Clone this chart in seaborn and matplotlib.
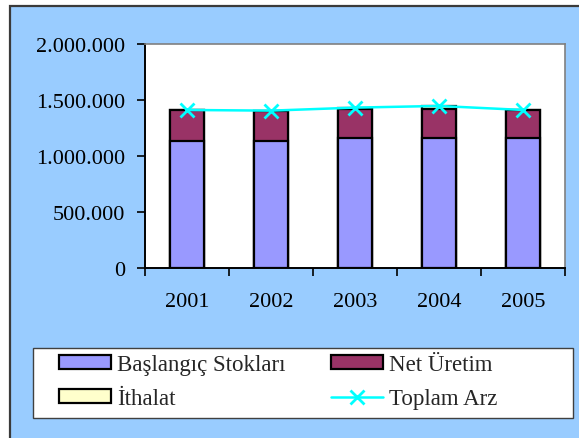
import matplotlib
matplotlib.use("Agg")
import matplotlib.pyplot as plt
import seaborn as sns
import numpy as np
import pandas as pd
from matplotlib.patches import Rectangle, Patch
from matplotlib.lines import Line2D
from matplotlib.ticker import FuncFormatter, FixedLocator

years = ["2001", "2002", "2003", "2004", "2005"]
baslangic = [1137000, 1137000, 1158000, 1158000, 1158000]
net_uretim = [274000, 268000, 264000, 264000, 253000]
ithalat = [0, 0, 10000, 25000, 0]
toplam_arz = [1411000, 1405000, 1432000, 1447000, 1411000]
series_names = ["Başlangıç Stokları", "Net Üretim", "İthalat", "Toplam Arz"]
y_ticks = [0, 500000, 1000000, 1500000, 2000000]

sns.set_theme(style="white")
plt.rcParams["font.family"] = ["Liberation Serif", "DejaVu Serif"]
FS_TICK = 16
FS_LEG = 16.5

c_bas = "#9999FF"
c_net = "#993366"
c_ith = "#FFFFCC"
c_line = "#00FFFF"

W, H = 579, 439
fig = plt.figure(figsize=(5.79, 4.39), dpi=100)
fig.patch.set_facecolor("white")
fig.add_artist(Rectangle((9.5 / W, -0.05), 1.0, 1 - 6.5 / H + 0.05,
                         transform=fig.transFigure, facecolor="#99CCFF",
                         edgecolor="#3a3a3a", linewidth=1.6, zorder=-10))

ax = fig.add_axes([145 / W, 1 - 269 / H, 420 / W, 224 / H])
ax.set_facecolor("white")

b = np.array(baslangic)
n = np.array(net_uretim)
i = np.array(ithalat)
df = pd.DataFrame({"Yıl": years, "l1": b, "l2": b + n, "l3": b + n + i,
                   "Toplam": toplam_arz})

for col, color in [("l3", c_ith), ("l2", c_net), ("l1", c_bas)]:
    sns.barplot(data=df, x="Yıl", y=col, color=color, edgecolor="black",
                linewidth=1.6, width=0.4, saturation=1, ax=ax, zorder=2)

sns.pointplot(data=df, x="Yıl", y="Toplam", color=c_line, markers="x",
              markersize=10, linewidth=1.8, ax=ax, zorder=5)
for line in ax.lines:
    line.set_markeredgewidth(2)

ax.set_xlim(-0.5, 4.5)
ax.set_ylim(0, 2000000)
ax.yaxis.set_major_locator(FixedLocator(y_ticks))
ax.yaxis.set_major_formatter(FuncFormatter(lambda v, p: f"{int(v):,}".replace(",", ".")))
ax.set_xlabel("")
ax.set_ylabel("")

ax.xaxis.set_minor_locator(FixedLocator(np.arange(-0.5, 5, 1.0)))
ax.tick_params(axis="x", which="major", length=0, pad=17, labelsize=FS_TICK, colors="black")
ax.tick_params(axis="x", which="minor", length=6, width=1.2, direction="out", color="black", bottom=True)
ax.tick_params(axis="y", which="major", length=6, width=1.2, direction="out", pad=8,
               labelsize=FS_TICK, colors="black", left=True)
for sp in ["left", "bottom"]:
    ax.spines[sp].set_color("black")
    ax.spines[sp].set_linewidth(1.4)
for sp in ["top", "right"]:
    ax.spines[sp].set_color("#808080")
    ax.spines[sp].set_linewidth(1.2)
    ax.spines[sp].set_visible(True)
ax.grid(False)

# legend frame
fig.add_artist(Rectangle((33 / W, 1 - 419 / H), 540 / W, 70 / H,
                         transform=fig.transFigure, facecolor="white",
                         edgecolor="#404040", linewidth=1.0, zorder=1))

handles = [
    Patch(facecolor=c_bas, edgecolor="black", linewidth=1.6),
    Patch(facecolor=c_ith, edgecolor="black", linewidth=1.6),
    Patch(facecolor=c_net, edgecolor="black", linewidth=1.6),
    Line2D([0], [0], color=c_line, marker="x", markersize=10, markeredgewidth=2, linewidth=1.8),
]
labels = [series_names[0], series_names[2], series_names[1], series_names[3]]
leg = fig.legend(handles, labels, loc="upper left", ncol=2,
                 bbox_to_anchor=(59 / W, 1 - 355 / H),
                 fontsize=FS_LEG, frameon=False,
                 handlelength=2.27, handleheight=0.55, handletextpad=0.26,
                 borderaxespad=0, labelspacing=0.57, borderpad=0,
                 columnspacing=2.0)
leg.set_zorder(2)

fig.savefig("out.png", dpi=100)
